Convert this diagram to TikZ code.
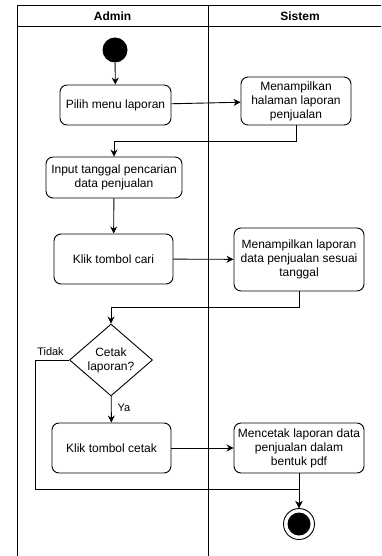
\documentclass[tikz,border=0pt]{standalone}
\usepackage{fontspec}
\setmainfont{Liberation Sans}
\usetikzlibrary{arrows.meta,shapes.geometric,calc}
\tikzset{
  act/.style={draw,rounded corners=7pt,line width=0.9pt,align=center,font=\fontsize{12}{14}\selectfont,inner sep=1pt},
  flow/.style={line width=0.9pt,-{Stealth[length=7pt,width=7pt]}},
  lane/.style={line width=1pt},
  lbl/.style={font=\fontsize{11}{13}\selectfont,inner sep=0pt},
}
\begin{document}
\begin{tikzpicture}[x=1pt,y=-1pt]
\useasboundingbox (0,0) rectangle (381,556);
% swimlanes
\draw[lane] (17,556) -- (17,6) -- (381,6);
\draw[lane] (17,27) -- (381,27);
\draw[lane] (208,6) -- (208,556);
\node[font=\bfseries\fontsize{12}{14}\selectfont] (hadmin) at (112.5,16.5) {Admin};
\node[font=\bfseries\fontsize{12}{14}\selectfont] (hsistem) at (300,16.5) {Sistem};
% nodes
\node[circle,fill=black,minimum size=25pt,inner sep=0pt] (start) at (115,50) {};
\node[act,minimum width=111pt,minimum height=40pt] (b1) at (115.5,105) {Pilih menu laporan};
\node[act,minimum width=110pt,minimum height=48pt] (b2) at (296,101) {Menampilkan\\halaman laporan\\penjualan};
\node[act,minimum width=136pt,minimum height=41pt] (b3) at (114,177.5) {Input tanggal pencarian\\data penjualan};
\node[act,minimum width=119pt,minimum height=50pt] (b4) at (113.5,259) {Klik tombol cari};
\node[act,minimum width=130pt,minimum height=63pt] (b5) at (299,259.5) {Menampilkan laporan\\data penjualan sesuai\\tanggal};
\node[diamond,draw,line width=0.9pt,minimum width=83pt,minimum height=70pt,inner sep=0pt,align=center,font=\fontsize{12}{14}\selectfont] (d) at (111,360) {Cetak\\laporan?};
\node[act,minimum width=119pt,minimum height=50pt] (b6) at (111.5,448) {Klik tombol cetak};
\node[act,minimum width=130pt,minimum height=50pt] (b7) at (299,448) {Mencetak laporan data\\penjualan dalam\\bentuk pdf};
\node[circle,draw,line width=0.9pt,minimum size=31pt,inner sep=0pt] (end) at (299,524) {};
\fill (end.center) circle (11.5pt);
% labels
\node[lbl] (ltidak) at (50.5,352) {Tidak};
\node[lbl] (lya) at (124,407.5) {Ya};
% connectors
\draw[flow] (start) -- (b1);
\draw[flow] (b1) -- (b2);
\draw[flow] (b2.south) -- (296,141) -| (b3.north);
\draw[flow] (b3) -- (b4);
\draw[flow] (b4) -- (b5);
\draw[flow] (b5.south) -- (299,307) -| (d.north);
\draw[flow] (d) -- (b6);
\draw[flow] (b6) -- (b7);
\draw[flow] (b7) -- (end);
\draw[flow] (d.west) -- (35,360) -- (35,489) -| (end.north);
\end{tikzpicture}
\end{document}
